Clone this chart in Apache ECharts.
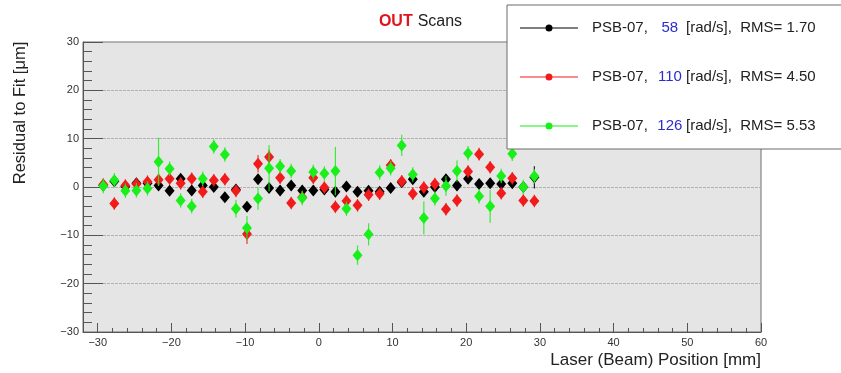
<!DOCTYPE html>
<html>
<head>
<meta charset="utf-8">
<script src="https://cdn.jsdelivr.net/npm/echarts@6/dist/echarts.min.js"></script>
<style>
  html, body { margin: 0; padding: 0; background: #fff; }
  #chart { width: 841px; height: 373px; }
</style>
</head>
<body>
<div id="chart"></div>
<script>
// Scan positions along the laser beam [mm]
const positions = [
  -29.25, -27.75, -26.25, -24.75, -23.25, -21.75, -20.25, -18.75, -17.25, -15.75,
  -14.25, -12.75, -11.25, -9.75, -8.25, -6.75, -5.25, -3.75, -2.25, -0.75,
  0.75, 2.25, 3.75, 5.25, 6.75, 8.25, 9.75, 11.25, 12.75, 14.25,
  15.75, 17.25, 18.75, 20.25, 21.75, 23.25, 24.75, 26.25, 27.75, 29.25
];

// Residuals to fit [um] per rotation speed
const res58 = [
  0.3, 1.2, 0.1, 0.8, 0.8, 0.3, -0.8, 1.7, -0.7, 0.3,
  0.0, -2.1, -0.5, -4.1, 1.6, -0.2, -0.7, 0.3, -0.7, -0.7,
  -0.5, -1.0, 0.1, -1.0, -0.8, -1.0, -0.2, 1.0, 1.6, -1.0,
  0.0, 1.6, 0.3, 1.7, 0.6, 0.8, 0.6, 0.8, 0.0, 2.0
];
const res110 = [
  0.5, -3.4, 0.3, 0.6, 1.1, 1.5, 1.7, 0.8, 1.7, -1.0,
  1.4, 1.6, -0.8, -9.7, 4.8, 6.2, 1.9, -3.3, -2.1, 1.9,
  -0.1, -4.1, -2.9, -3.8, -1.6, -1.4, 4.5, 1.2, -1.4, -0.1,
  0.6, -4.6, -2.8, 3.2, 6.8, 4.1, -1.3, 1.8, -2.8, -2.9
];
const res126 = [
  0.2, 1.4, -0.8, -0.7, -0.3, 5.2, 3.8, -2.8, -4.0, 1.7,
  8.4, 6.7, -4.5, -8.5, -2.4, 3.9, 4.3, 3.3, -2.3, 3.1,
  2.8, 3.3, -4.5, -14.1, -9.8, 3.0, 3.9, 8.6, 2.6, -6.4,
  -2.4, 0.2, 3.3, 7.0, -1.9, -4.0, 2.3, 6.9, 0.0, 2.2
];

// Uncertainties [um]
const err58 = [
  1.0, 1.0, 1.0, 1.0, 1.0, 1.0, 1.0, 1.0, 1.0, 1.0,
  1.0, 1.0, 1.0, 1.0, 1.0, 1.0, 1.0, 1.0, 1.0, 1.0,
  1.0, 1.0, 1.0, 1.0, 1.0, 1.0, 1.0, 1.0, 1.0, 1.0,
  1.0, 1.0, 1.0, 1.0, 1.0, 1.0, 1.0, 1.0, 1.0, 2.3
];
const err110 = [
  1.3, 1.3, 1.3, 1.3, 1.3, 1.3, 1.3, 1.3, 1.3, 1.3,
  1.3, 1.3, 1.3, 2.1, 1.8, 1.5, 1.3, 1.3, 1.3, 1.3,
  1.3, 1.3, 1.3, 1.3, 1.3, 1.3, 1.3, 1.3, 1.3, 1.3,
  1.3, 1.3, 1.3, 1.3, 1.3, 1.3, 1.3, 1.3, 1.3, 1.3
];
const err126 = [
  1.5, 1.5, 1.5, 1.5, 1.5, 5.0, 1.5, 1.5, 1.5, 1.5,
  1.5, 1.5, 1.8, 2.5, 2.3, 4.8, 1.5, 1.5, 1.5, 1.5,
  1.5, 5.0, 1.5, 2.0, 2.3, 1.5, 1.5, 2.2, 1.5, 3.4,
  1.5, 2.0, 2.2, 1.5, 1.5, 3.4, 1.5, 1.5, 1.5, 1.5
];

// Legend contents
const speeds = [58, 110, 126];
const rmsValues = ['1.70', '4.50', '5.53'];
const colors = ['#000000', '#f21a1a', '#19ef19'];

// Axis ticks
const xMajorTicks = [-30, -20, -10, 0, 10, 20, 30, 40, 50, 60];

const FONT = "'Liberation Sans', Arial, Helvetica, sans-serif";
const residuals = [res58, res110, res126];
const errors = [err58, err110, err126];

function fmtNum(v) {
  return v < 0 ? '\u2212' + Math.abs(v) : String(v);
}

function seriesName(i) {
  return 'PSB-07, ' + speeds[i] + ' [rad/s], RMS= ' + rmsValues[i];
}

const series = [];
residuals.forEach(function (vals, i) {
  const pts = positions.map(function (x, k) { return [x, vals[k], errors[i][k]]; });
  // vertical error bars
  series.push({
    type: 'custom',
    name: seriesName(i) + ' err',
    xAxisIndex: 0,
    yAxisIndex: 0,
    clip: true,
    z: 3 + i * 2,
    silent: true,
    renderItem: function (params, api) {
      const x = api.value(0), y = api.value(1), e = api.value(2);
      const top = api.coord([x, y + e]);
      const bot = api.coord([x, y - e]);
      return {
        type: 'line',
        shape: { x1: top[0], y1: top[1], x2: bot[0], y2: bot[1] },
        style: { stroke: colors[i], lineWidth: 1.2, opacity: 0.85 }
      };
    },
    encode: { x: 0, y: 1 },
    data: pts
  });
  // diamond markers
  series.push({
    type: 'scatter',
    name: seriesName(i),
    xAxisIndex: 0,
    yAxisIndex: 0,
    z: 4 + i * 2,
    symbol: 'diamond',
    symbolSize: [10, 12],
    itemStyle: { color: colors[i], opacity: 1 },
    data: positions.map(function (x, k) { return [x, vals[k]]; })
  });
});

const legendIcon = 'path://M0,3.5 L58,3.5 L58,4.5 L0,4.5 Z M25.5,4 A3.5,3.5 0 1 1 32.5,4 A3.5,3.5 0 1 1 25.5,4 Z';

const chart = echarts.init(document.getElementById('chart'), null, { renderer: 'canvas' });
chart.setOption({
  backgroundColor: '#ffffff',
  animation: false,
  textStyle: { fontFamily: FONT },
  title: {
    text: '{r|OUT} {k|Scans}',
    left: 'center',
    top: 8,
    textStyle: {
      fontWeight: 'normal',
      rich: {
        r: { color: '#e3131b', fontWeight: 'bold', fontSize: 16, fontFamily: FONT },
        k: { color: '#222222', fontWeight: 'normal', fontSize: 16, fontFamily: FONT }
      }
    }
  },
  grid: {
    left: 83, right: 80, top: 42, bottom: 41,
    show: true,
    backgroundColor: '#e5e5e5',
    borderColor: '#6e6e6e',
    borderWidth: 1
  },
  xAxis: [
    {
      type: 'value',
      min: -32, max: 60, interval: 2,
      axisLine: { show: true, onZero: false, lineStyle: { color: '#555', width: 1 } },
      axisTick: { show: true, inside: true, length: 4, lineStyle: { color: '#555' } },
      splitLine: { show: false },
      axisLabel: {
        color: '#333', fontSize: 11, margin: 5, fontFamily: FONT,
        formatter: function (v) { return (v % 10 === 0) ? fmtNum(v) : ''; }
      }
    },
    {
      type: 'value',
      min: -32, max: 60, interval: 2,
      position: 'bottom',
      axisLine: { show: false, onZero: false },
      axisTick: { show: true, inside: true, length: 9, customValues: xMajorTicks, lineStyle: { color: '#555' } },
      axisLabel: { show: false },
      splitLine: { show: false }
    }
  ],
  yAxis: {
    type: 'value',
    min: -30, max: 30, interval: 10,
    axisLine: { show: true, onZero: false, lineStyle: { color: '#555', width: 1 } },
    axisTick: { show: true, inside: true, length: 20, lineStyle: { color: '#555' } },
    minorTick: { show: true, splitNumber: 5, length: 9, lineStyle: { color: '#555' } },
    splitLine: { show: true, lineStyle: { color: '#b0b0b0', width: 1, type: [3, 1] } },
    axisLabel: { color: '#333', fontSize: 11, margin: 4, fontFamily: FONT, formatter: fmtNum }
  },
  legend: {
    orient: 'vertical',
    left: 520,
    top: 19,
    padding: 0,
    z: 12,
    itemWidth: 58,
    itemHeight: 8,
    itemGap: 31,
    icon: legendIcon,
    selectedMode: false,
    data: speeds.map(function (s, i) { return seriesName(i); }),
    formatter: function (name) {
      const i = speeds.findIndex(function (s, k) { return seriesName(k) === name; });
      return '{sp| }{t|PSB-07,}{g| }{n|' + speeds[i] + '}{t| [rad/s],  RMS= ' + rmsValues[i] + '}';
    },
    textStyle: {
      lineHeight: 18,
      rich: {
        sp: { width: 9, fontSize: 15 },
        g: { width: 10, fontSize: 15 },
        t: { color: '#222', fontSize: 15, fontFamily: FONT },
        n: { color: '#2b2bd0', fontSize: 15, fontFamily: FONT, width: 24, align: 'center' }
      }
    }
  },
  graphic: [
    {
      type: 'rect',
      z: 10,
      shape: { x: 507, y: 5, width: 340, height: 144 },
      style: { fill: '#ffffff', stroke: '#6a6a6a', lineWidth: 1 }
    },
    {
      type: 'text',
      z: 10,
      right: 80,
      top: 352,
      style: { text: 'Laser (Beam) Position [mm]', font: '17px ' + FONT, fill: '#222' }
    },
    {
      type: 'text',
      z: 10,
      x: 20,
      y: 113,
      rotation: Math.PI / 2,
      style: {
        text: 'Residual to Fit [\u03bcm]', font: '16.5px ' + FONT, fill: '#222',
        textAlign: 'center', textVerticalAlign: 'middle'
      }
    }
  ],
  series: series
});
</script>
</body>
</html>
